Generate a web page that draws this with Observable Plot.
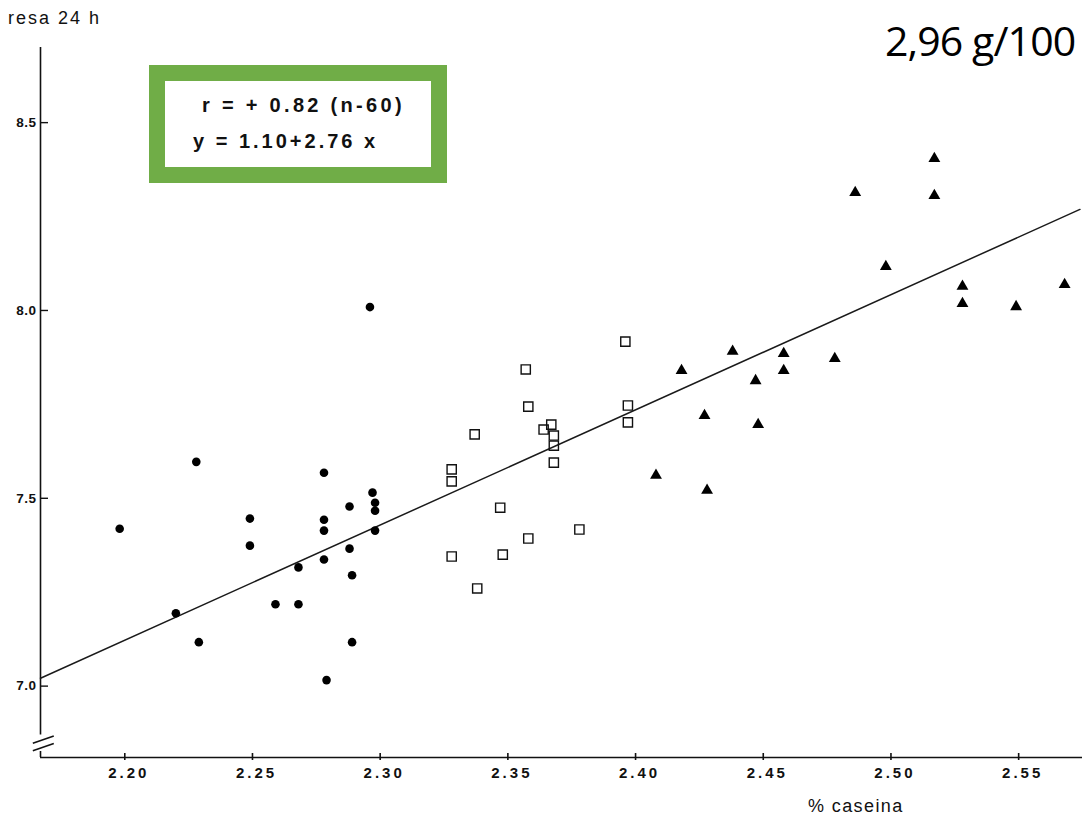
<!DOCTYPE html>
<html>
<head>
<meta charset="utf-8">
<script src="https://cdn.jsdelivr.net/npm/d3@7"></script>
<script src="https://cdn.jsdelivr.net/npm/@observablehq/plot@0.6"></script>
<style>
  html, body { margin: 0; padding: 0; background: #fff; overflow: hidden; }
  #wrap { position: relative; width: 1082px; height: 815px; overflow: hidden; font-family: "Liberation Sans", Arial, sans-serif; color: #111; }
  #chart { position: absolute; left: 0; top: 0; }
  .ann { position: absolute; white-space: pre; line-height: 1; }
  #ylab { left: 8px; top: 9px; font-size: 18px; letter-spacing: 2px; }
  #note { left: 885px; top: 20px; font-family: "Open Sans", "Noto Sans", sans-serif; font-size: 41px; letter-spacing: -0.9px; color: #000; }
  #box { position: absolute; left: 149px; top: 65px; width: 298px; height: 118px; box-sizing: border-box; border: 16px solid #70AD47; background: #fff; }
  #l1 { left: 202px; top: 95px; font-size: 20px; font-weight: bold; letter-spacing: 3.3px; }
  #l2 { left: 193px; top: 131px; font-size: 20px; font-weight: bold; letter-spacing: 3px; }
  #xlab { left: 808px; top: 797px; font-size: 18px; letter-spacing: 1.4px; }
  svg [aria-label="x-axis tick label"] text { letter-spacing: 3px; }
  svg [aria-label="y-axis tick label"] text { letter-spacing: 0.5px; }
</style>
</head>
<body>
<div id="wrap">
  <div id="chart"></div>
  <div id="box"></div>
  <div class="ann" id="l1">r = + 0.82 (n-60)</div>
  <div class="ann" id="l2">y = 1.10+2.76 x</div>
  <div class="ann" id="ylab">resa 24 h</div>
  <div class="ann" id="note">2,96 g/100</div>
  <div class="ann" id="xlab">% caseina</div>
</div>
<script>
// ---- data ----
const xDomain = [2.167, 2.575];
const yDomain = [6.81, 8.70];
const xTicks = [2.20, 2.25, 2.30, 2.35, 2.40, 2.45, 2.50, 2.55];
const yTicks = [7.0, 7.5, 8.0, 8.5];

// group 1: filled circles
const circleX = [2.228, 2.278, 2.297, 2.298, 2.298, 2.288, 2.249, 2.278, 2.198, 2.278, 2.298, 2.249,
                 2.288, 2.268, 2.278, 2.289, 2.220, 2.259, 2.268, 2.229, 2.289, 2.279, 2.296];
const circleY = [7.597, 7.568, 7.515, 7.488, 7.467, 7.478, 7.446, 7.443, 7.419, 7.414, 7.414, 7.374,
                 7.366, 7.316, 7.337, 7.295, 7.194, 7.218, 7.218, 7.117, 7.117, 7.016, 8.009];

// group 2: open squares
const squareX = [2.396, 2.357, 2.358, 2.397, 2.397, 2.337, 2.367, 2.364, 2.368, 2.368, 2.368, 2.328,
                 2.328, 2.347, 2.378, 2.358, 2.328, 2.348, 2.338];
const squareY = [7.917, 7.843, 7.744, 7.747, 7.702, 7.670, 7.696, 7.683, 7.667, 7.640, 7.595, 7.577,
                 7.545, 7.475, 7.417, 7.393, 7.345, 7.350, 7.260];

// group 3: filled triangles
const triX = [2.438, 2.458, 2.478, 2.418, 2.458, 2.447, 2.427, 2.448, 2.408, 2.428, 2.517, 2.486,
              2.517, 2.498, 2.528, 2.528, 2.549, 2.568];
const triY = [7.891, 7.885, 7.872, 7.840, 7.840, 7.813, 7.720, 7.696, 7.561, 7.521, 8.404, 8.314,
              8.306, 8.117, 8.064, 8.018, 8.010, 8.069];

// regression line as drawn (end points)
const regX = [2.167, 2.574];
const regY = [7.021, 8.269];

// axis break on the y axis
const breakY = [6.858, 6.838];

// ---- build ----
const zip = (xs, ys) => xs.map((x, i) => ({x, y: ys[i]}));
const circles = zip(circleX, circleY);
const squares = zip(squareX, squareY);
const tris = zip(triX, triY);
const reg = zip(regX, regY);

const W = 1082, H = 815, mL = 40, mR = 0, mT = 47, mB = 58;
const innerH = H - mT - mB, innerW = W - mL - mR;

const chart = Plot.plot({
  width: W,
  height: H,
  marginLeft: mL,
  marginRight: mR,
  marginTop: mT,
  marginBottom: mB,
  style: {fontFamily: "'Liberation Sans', Arial, sans-serif", color: "#111", background: "transparent"},
  x: {domain: xDomain},
  y: {domain: yDomain},
  marks: [
    // axis lines
    Plot.ruleY([yDomain[0]], {stroke: "#111", strokeWidth: 1.6}),
    Plot.ruleX([xDomain[0]], {y1: breakY[0] + 0.012, y2: yDomain[1], stroke: "#111", strokeWidth: 1.6}),
    Plot.ruleX([xDomain[0]], {y1: yDomain[0], y2: breakY[1] - 0.012, stroke: "#111", strokeWidth: 1.6}),
    Plot.link(breakY, {
      x1: () => xDomain[0] - 0.003, x2: () => xDomain[0] + 0.0052,
      y1: d => d - 0.010, y2: d => d + 0.009,
      stroke: "#111", strokeWidth: 1.6
    }),
    // ticks
    Plot.tickY(yTicks, {y: d => d, insetRight: innerW - 8, stroke: "#111", strokeWidth: 1.4}),
    Plot.tickX(xTicks, {x: d => d, insetTop: innerH - 4, insetBottom: -3, stroke: "#111", strokeWidth: 1.6}),
    Plot.axisY({ticks: yTicks, tickSize: 0, tickPadding: 4, tickFormat: d3.format(".1f"),
                fontSize: 13.5, fontWeight: "bold", label: null}),
    Plot.axisX({ticks: xTicks, tickSize: 0, tickPadding: 10, tickFormat: d3.format(".2f"),
                fontSize: 15, fontWeight: "bold", dx: 4, label: null}),
    // regression line
    Plot.line(reg, {x: "x", y: "y", stroke: "#1a1a1a", strokeWidth: 1.5}),
    // points
    Plot.dot(circles, {x: "x", y: "y", r: 4.3, fill: "#000", stroke: "none", symbol: "circle"}),
    Plot.dot(squares, {x: "x", y: "y", r: 5.2, fill: "none", stroke: "#111", strokeWidth: 1.4, symbol: "square"}),
    Plot.dot(tris, {x: "x", y: "y", r: 4.4, fill: "#000", stroke: "none", symbol: "triangle"})
  ]
});
document.getElementById("chart").appendChild(chart);
</script>
</body>
</html>
